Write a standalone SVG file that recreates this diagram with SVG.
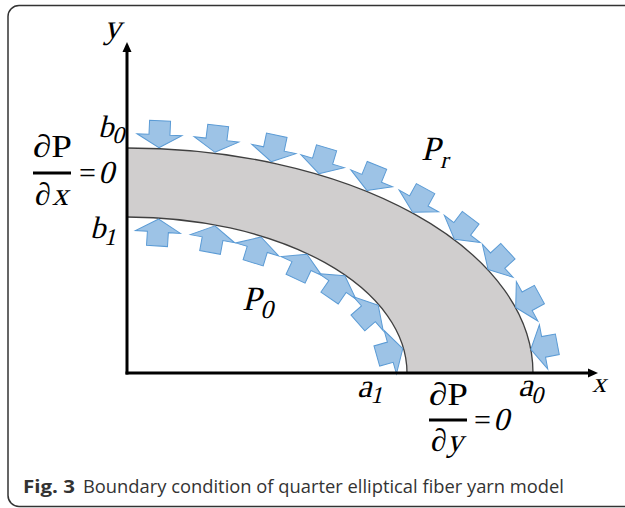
<svg xmlns="http://www.w3.org/2000/svg" width="625" height="508" viewBox="0 0 625 508">
<defs>
<style>
.math{font-family:"Liberation Serif","Times New Roman",serif;fill:#000}
.cap{font-family:"Open Sans","Liberation Sans",sans-serif;fill:#333}
.arr{fill:#9DC3E6;stroke:#5B9BD5;stroke-width:1;stroke-linejoin:miter}
.axis{stroke:#000;stroke-width:3;fill:none}
.edge{stroke:#404040;stroke-width:1.3;fill:none}
</style>
<path id="blk" d="M0,0 L-13,-22.5 L-13,-10.5 L-27,-10.5 L-27,10.5 L-13,10.5 L-13,22.5 Z"/>
</defs>
<rect width="625" height="508" fill="#fff"/>
<rect id="frame" x="8" y="5.5" width="640" height="501" rx="11" fill="none" stroke="#333" stroke-width="1.5"/>

<g id="band">
<path d="M127,148 A406,225 0 0 1 533,373 L407,373 A280,156 0 0 0 127,217 Z" fill="#D0CECE"/>
<path class="edge" d="M127,148 A406,225 0 0 1 533,373"/>
<path class="edge" d="M127,217 A280,156 0 0 1 407,373"/>
</g>

<g id="outer-arrows" class="arr">
<use href="#blk" transform="translate(158.9,147.7) rotate(92.5)"/>
<use href="#blk" transform="translate(214.9,152.3) rotate(97)"/>
<use href="#blk" transform="translate(271.2,161.7) rotate(101.9)"/>
<use href="#blk" transform="translate(318.9,173.7) rotate(106.5)"/>
<use href="#blk" transform="translate(366.8,190.4) rotate(112.1)"/>
<use href="#blk" transform="translate(412.6,212.3) rotate(118.7)"/>
<use href="#blk" transform="translate(454.4,239.3) rotate(127.1)"/>
<use href="#blk" transform="translate(488.1,269.5) rotate(137.2)"/>
<use href="#blk" transform="translate(515.7,307.5) rotate(151.4)"/>
<use href="#blk" transform="translate(530.8,349.3) rotate(169.3)"/>
</g>

<g id="inner-arrows" class="arr">
<use href="#blk" transform="translate(158.7,219) rotate(-86.4)"/>
<use href="#blk" transform="translate(214.9,225.9) rotate(-79.6)"/>
<use href="#blk" transform="translate(261,237) rotate(-73.1)"/>
<use href="#blk" transform="translate(307,254.3) rotate(-64.9)"/>
<use href="#blk" transform="translate(344.9,275.8) rotate(-55.4)"/>
<use href="#blk" transform="translate(378.2,305.2) rotate(-41.2)"/>
<use href="#blk" transform="translate(402.8,348.6) rotate(-15.9)"/>
</g>

<g id="connectors">
<line class="axis" x1="127" y1="374.5" x2="127" y2="50"/>
<polygon points="127,42 122.5,52 131.5,52" fill="#000"/>
<line class="axis" x1="125.5" y1="373" x2="590" y2="373"/>
<polygon points="598,373 588,368.5 588,377.5" fill="#000"/>
</g>

<g id="labels" class="math">
<text transform="translate(104,38) skewX(-14)" font-size="34">y</text>
<text transform="translate(592,392) skewX(-14)" font-size="28">x</text>
<text transform="translate(98,137) skewX(-14)" font-size="31">b<tspan font-size="24" dy="6">0</tspan></text>
<text transform="translate(90,238) skewX(-14)" font-size="31">b<tspan font-size="24" dy="7">1</tspan></text>
<text transform="translate(421,160) skewX(-14)" font-size="34">P<tspan font-size="24" dx="2" dy="8">r</tspan></text>
<text transform="translate(242,310) skewX(-14)" font-size="34">P<tspan font-size="26" dx="1" dy="8">0</tspan></text>
<text transform="translate(357,397) skewX(-14)" font-size="33">a<tspan font-size="24" dy="6">1</tspan></text>
<text transform="translate(518,396) skewX(-14)" font-size="33">a<tspan font-size="24" dy="7">0</tspan></text>

<g id="dpdx">
<text x="33" y="157" font-size="32" textLength="39" lengthAdjust="spacingAndGlyphs">∂P</text>
<rect x="33" y="171.5" width="38" height="3" fill="#000"/>
<text x="35" y="205" font-size="32">∂</text>
<text transform="translate(52,205) skewX(-14)" font-size="32">x</text>
<text x="79" y="183" font-size="30">=</text>
<text transform="translate(98,183) skewX(-14)" font-size="32">0</text>
</g>
<g id="dpdy">
<text x="429" y="405" font-size="32" textLength="39" lengthAdjust="spacingAndGlyphs">∂P</text>
<rect x="429" y="418.5" width="38" height="3" fill="#000"/>
<text x="431" y="451" font-size="32">∂</text>
<text transform="translate(447,451) skewX(-14)" font-size="32">y</text>
<text x="474" y="430" font-size="30">=</text>
<text transform="translate(493,430) skewX(-14)" font-size="32">0</text>
</g>
</g>

<g id="caption">
<text class="cap" x="23" y="493" font-size="18" font-weight="bold" textLength="52" lengthAdjust="spacingAndGlyphs">Fig. 3</text>
<text class="cap" x="83" y="493" font-size="18" textLength="481" lengthAdjust="spacingAndGlyphs">Boundary condition of quarter elliptical fiber yarn model</text>
</g>
</svg>
